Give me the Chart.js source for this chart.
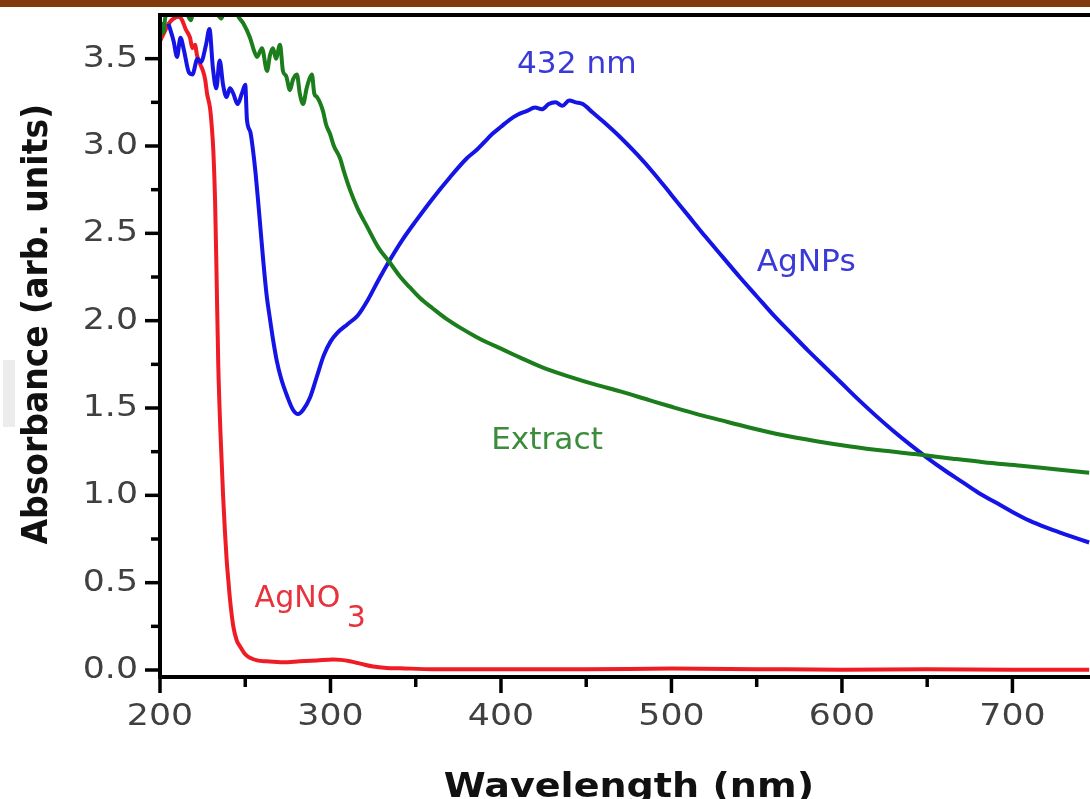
<!DOCTYPE html>
<html>
<head>
<meta charset="utf-8">
<script src="https://cdn.jsdelivr.net/npm/chart.js@4.4.1/dist/chart.umd.min.js"></script>
<style>
  html, body { margin: 0; padding: 0; background: #fff; }
  #wrap { position: relative; width: 1090px; height: 799px; overflow: hidden; }
  #topbar { position: absolute; left: 0; top: 0; width: 1090px; height: 7px; background: #813a0b; }
  #smudge { position: absolute; left: 3px; top: 360px; width: 12px; height: 67px; background: #ececec; }
  canvas { position: absolute; left: 0; top: 0; }
</style>
</head>
<body>
<div id="wrap">
  <canvas id="uvChart" width="1090" height="799"></canvas>
  <div id="smudge"></div>
  <div id="topbar"></div>
</div>
<script>
// UV-vis spectra (wavelength in nm, absorbance in arb. units)
const agnpsWl = [205, 208, 210, 212, 214, 217, 219, 222, 224, 227, 229, 231, 233, 235, 237, 239, 241, 243, 245.5, 248, 250, 251,
  253, 254.5, 256, 257.5, 259, 260.5, 262.5, 264.5, 266.5, 268.5, 271, 274.5, 278, 281, 284, 288, 292, 296, 300, 304, 310, 316, 322, 328,
  335, 342, 350, 360, 370, 380, 386, 390, 395, 400, 405, 410, 415, 420, 424, 428, 432, 436, 440, 444, 448, 454, 460, 470,
  480, 490, 500, 510, 520, 530, 540, 550, 560, 570, 580, 590, 600, 610, 620, 630, 640, 650, 660, 670, 680, 690, 700, 710,
  720, 730, 745];
const agnpsAbs = [3.70, 3.60, 3.51, 3.62, 3.55, 3.42, 3.41, 3.50, 3.48, 3.58, 3.67, 3.45, 3.33, 3.49, 3.35, 3.28, 3.33, 3.30, 3.24, 3.30, 3.35, 3.15,
  3.08, 2.98, 2.85, 2.69, 2.52, 2.35, 2.15, 2.01, 1.88, 1.77, 1.67, 1.57, 1.49, 1.465, 1.49, 1.56, 1.68, 1.80, 1.88, 1.93, 1.98, 2.03, 2.12, 2.23,
  2.35, 2.46, 2.57, 2.70, 2.82, 2.93, 2.98, 3.02, 3.07, 3.11, 3.15, 3.18, 3.20, 3.22, 3.21, 3.24, 3.25, 3.23, 3.26, 3.25, 3.24, 3.19, 3.14, 3.05,
  2.95, 2.84, 2.72, 2.60, 2.48, 2.365, 2.25, 2.14, 2.03, 1.93, 1.83, 1.735, 1.64, 1.545, 1.455, 1.37, 1.29, 1.215, 1.145, 1.08, 1.015, 0.96, 0.905, 0.855,
  0.815, 0.78, 0.73];

const extractWl = [200, 201, 202, 203, 205, 210, 215, 218, 220, 225, 230, 236, 238, 243, 246, 249, 252.8, 255, 256.9, 259.8, 262.8,
  264.5, 266.3, 268, 270.4, 272.1, 274, 276.2, 278, 280.3, 282, 283.9, 286, 287.5, 289.1, 290.5, 292.1, 295.6, 297.5, 299.7,
  302, 305.6, 308, 311.4, 316, 321.4, 328, 335, 341, 346.6, 352.5, 360, 368, 376, 385, 392, 400, 411, 425, 440, 455, 470,
  487, 499, 515, 527, 545, 565, 585, 605, 625, 644, 665, 683, 705, 725, 745];
const extractAbs = [3.62, 3.70, 3.65, 3.73, 3.80, 3.85, 3.78, 3.72, 3.80, 3.85, 3.82, 3.73, 3.78, 3.80, 3.74, 3.70, 3.62, 3.55, 3.51, 3.56, 3.43,
  3.52, 3.56, 3.50, 3.58, 3.43, 3.40, 3.32, 3.38, 3.41, 3.30, 3.24, 3.33, 3.38, 3.41, 3.30, 3.28, 3.20, 3.12, 3.07,
  3.00, 2.93, 2.85, 2.75, 2.64, 2.54, 2.42, 2.33, 2.25, 2.19, 2.13, 2.07, 2.01, 1.96, 1.91, 1.875, 1.84, 1.79, 1.73, 1.68, 1.635, 1.595,
  1.545, 1.51, 1.465, 1.435, 1.39, 1.345, 1.31, 1.28, 1.255, 1.235, 1.21, 1.19, 1.17, 1.15, 1.13];

const agno3Wl = [200, 203, 205, 208, 211, 213, 215, 217.6, 219, 220.5, 221.7, 223.5, 225.2, 226.5, 227.6, 229.3, 230.3, 231.3, 232.3,
  233.2, 234.2, 235.5, 237, 238.1, 239.1, 240.2, 241.1, 243, 245, 246.9, 250, 252.8, 257, 262.6, 272, 282, 292, 301.5, 306,
  311.4, 318, 325, 333, 340.8, 360, 400, 450, 500, 550, 600, 650, 700, 745];
const agno3Abs = [3.60, 3.66, 3.70, 3.73, 3.74, 3.72, 3.67, 3.62, 3.56, 3.58, 3.52, 3.47, 3.43, 3.38, 3.30, 3.22, 3.12, 2.97, 2.69,
  2.25, 1.74, 1.35, 1.00, 0.79, 0.63, 0.50, 0.40, 0.25, 0.17, 0.136, 0.09, 0.07, 0.055, 0.05, 0.045, 0.05, 0.055, 0.06, 0.058,
  0.05, 0.035, 0.02, 0.012, 0.01, 0.005, 0.005, 0.005, 0.008, 0.005, 0.002, 0.004, 0.002, 0.002];

const xTicks = [200, 300, 400, 500, 600, 700];
const xMinorTicks = [250, 350, 450, 550, 650];
const yTicks = [0, 0.5, 1.0, 1.5, 2.0, 2.5, 3.0, 3.5];
const yMinorTicks = [0.25, 0.75, 1.25, 1.75, 2.25, 2.75, 3.25];

const BLUE = '#1414e6';
const GREEN = '#1b7d1b';
const RED = '#ee1c24';

const toPoints = (xs, ys) => xs.map((x, i) => ({ x, y: ys[i] }));

// the figure's lettering is slightly widened, hence the sx factor
function drawText(ctx, txt, x, y, font, color, align, baseline, sx = 1.12) {
  ctx.save();
  ctx.translate(x, y);
  ctx.scale(sx, 1);
  ctx.font = font;
  ctx.fillStyle = color;
  ctx.textAlign = align;
  ctx.textBaseline = baseline;
  ctx.fillText(txt, 0, 0);
  ctx.restore();
}

// axes frame, ticks, tick labels, titles and curve labels
const framePlugin = {
  id: 'frame',
  afterDraw(chart) {
    const { ctx, chartArea: a, scales: { x, y } } = chart;
    ctx.save();
    ctx.strokeStyle = '#000';
    ctx.lineCap = 'butt';

    // ticks
    ctx.lineWidth = 3.5;
    xTicks.forEach(v => { const px = x.getPixelForValue(v); ctx.beginPath(); ctx.moveTo(px, a.bottom); ctx.lineTo(px, a.bottom + 16); ctx.stroke(); });
    xMinorTicks.forEach(v => { const px = x.getPixelForValue(v); ctx.beginPath(); ctx.moveTo(px, a.bottom); ctx.lineTo(px, a.bottom + 10); ctx.stroke(); });
    yTicks.forEach(v => { const py = y.getPixelForValue(v); ctx.beginPath(); ctx.moveTo(a.left, py); ctx.lineTo(a.left - 15, py); ctx.stroke(); });
    yMinorTicks.forEach(v => { const py = y.getPixelForValue(v); ctx.beginPath(); ctx.moveTo(a.left, py); ctx.lineTo(a.left - 9, py); ctx.stroke(); });

    // frame
    ctx.lineWidth = 4;
    ctx.beginPath();
    ctx.moveTo(a.right + 5, a.top);
    ctx.lineTo(a.left, a.top);
    ctx.lineTo(a.left, a.bottom);
    ctx.lineTo(a.right + 5, a.bottom);
    ctx.stroke();
    ctx.restore();

    const tickFont = '31px "DejaVu Sans", Verdana, sans-serif';
    xTicks.forEach(v => drawText(ctx, String(v), x.getPixelForValue(v), a.bottom + 48, tickFont, '#404040', 'center', 'alphabetic'));
    yTicks.forEach(v => drawText(ctx, v.toFixed(1), a.left - 22, y.getPixelForValue(v), tickFont, '#404040', 'right', 'middle'));

    // axis titles
    drawText(ctx, 'Wavelength (nm)', x.getPixelForValue(475), 797, 'bold 34px "DejaVu Sans", Verdana, sans-serif', '#111', 'center', 'alphabetic');
    ctx.save();
    ctx.translate(47, y.getPixelForValue(1.98));
    ctx.scale(1.1, 1);
    ctx.rotate(-Math.PI / 2);
    ctx.font = 'bold 33px "DejaVu Sans", Verdana, sans-serif';
    ctx.fillStyle = '#111';
    ctx.textAlign = 'center';
    ctx.textBaseline = 'alphabetic';
    ctx.fillText('Absorbance (arb. units)', 0, 0);
    ctx.restore();

    // curve labels
    const lblFont = '30px "DejaVu Sans", Verdana, sans-serif';
    drawText(ctx, '432 nm', x.getPixelForValue(444.5), y.getPixelForValue(3.46), lblFont, '#3a3ad8', 'center', 'middle', 1.04);
    drawText(ctx, 'AgNPs', x.getPixelForValue(579), y.getPixelForValue(2.33), lblFont, '#3a3ad8', 'center', 'middle', 1.04);
    drawText(ctx, 'Extract', x.getPixelForValue(427), y.getPixelForValue(1.31), lblFont, '#3b8c3b', 'center', 'middle', 1.04);
    drawText(ctx, 'AgNO', x.getPixelForValue(255.5), y.getPixelForValue(0.36), lblFont, '#e8323c', 'left', 'alphabetic', 1.0);
    drawText(ctx, '3', x.getPixelForValue(309.5), y.getPixelForValue(0.245), lblFont, '#e8323c', 'left', 'alphabetic', 1.0);
  }
};

const line = (data, color) => ({
  data,
  borderColor: color,
  borderWidth: 4,
  pointRadius: 0,
  fill: false,
  cubicInterpolationMode: 'monotone',
  clip: 0
});

new Chart(document.getElementById('uvChart'), {
  type: 'line',
  data: {
    datasets: [
      line(toPoints(extractWl, extractAbs), GREEN),
      line(toPoints(agnpsWl, agnpsAbs), BLUE),
      line(toPoints(agno3Wl, agno3Abs), RED)
    ]
  },
  options: {
    responsive: false,
    animation: false,
    devicePixelRatio: 1,
    layout: { padding: { top: 15, right: 0, left: 0, bottom: 0 } },
    plugins: { legend: { display: false }, tooltip: { enabled: false } },
    scales: {
      x: {
        type: 'linear',
        min: 200,
        max: 745.5,
        grid: { display: false },
        border: { display: false },
        ticks: { display: false },
        afterFit(s) { s.height = 122; }
      },
      y: {
        min: -0.04,
        max: 3.75,
        grid: { display: false },
        border: { display: false },
        ticks: { display: false },
        afterFit(s) { s.width = 160; }
      }
    }
  },
  plugins: [framePlugin]
});
</script>
</body>
</html>
